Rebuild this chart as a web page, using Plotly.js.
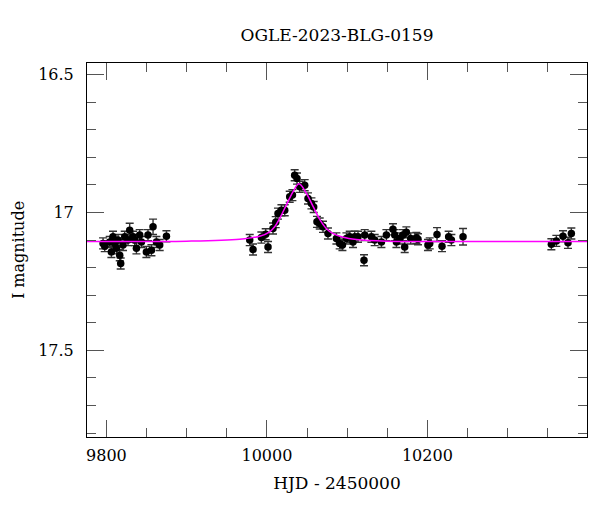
<!DOCTYPE html>
<html>
<head>
<meta charset="utf-8">
<script src="https://cdn.plot.ly/plotly-3.0.1.min.js"></script>
<style>html,body{margin:0;padding:0;background:#fff;}#chart{width:600px;height:512px;}</style>
</head>
<body>
<div id="chart"></div>
<script>
// Observed photometry (HJD - 2450000, I magnitude, error)
var hjd = [
  9795.8, 9797.9, 9804.1, 9806.2, 9808.2, 9810.3, 9812.5, 9814.5, 9816.6, 9817.8,
  9820.7, 9822.8, 9826.9, 9829.0, 9833.1, 9835.3, 9837.4, 9841.5, 9843.6, 9849.8,
  9851.8, 9856.1, 9858.1, 9862.3, 9866.4, 9874.8,
  9978.6, 9982.7, 9993.1, 9998.5, 10001.4, 10007.6, 10011.0, 10013.8, 10018.1, 10022.2,
  10028.4, 10031.8, 10034.6, 10037.5, 10040.9, 10047.1, 10051.2, 10055.5, 10058.3, 10062.4,
  10065.8, 10069.9, 10076.1, 10086.6, 10090.7, 10094.1, 10099.1, 10103.2, 10107.3, 10109.4,
  10113.5, 10121.0, 10121.9, 10130.2, 10134.3, 10142.7, 10148.9, 10157.1, 10159.3, 10161.4,
  10165.5, 10169.6, 10171.7, 10173.8, 10179.2, 10186.3, 10188.3, 10200.7, 10202.9, 10212.0,
  10218.2, 10226.5, 10229.9, 10244.4,
  10354.5, 10360.7, 10369.0, 10375.2, 10379.4
];
var mag = [
  17.112, 17.122, 17.107, 17.143, 17.088, 17.112, 17.130, 17.100, 17.155, 17.185,
  17.118, 17.088, 17.100, 17.064, 17.088, 17.100, 17.130, 17.082, 17.107, 17.143,
  17.082, 17.137, 17.052, 17.107, 17.118, 17.086,
  17.100, 17.134, 17.091, 17.079, 17.125, 17.058, 17.035, 17.004, 16.992, 16.992,
  16.943, 16.937, 16.865, 16.877, 16.907, 16.901, 16.949, 16.967, 16.980, 17.034,
  17.040, 17.052, 17.076, 17.094, 17.112, 17.118, 17.094, 17.088, 17.107, 17.088,
  17.088, 17.173, 17.082, 17.088, 17.100, 17.107, 17.082, 17.061, 17.082, 17.107,
  17.094, 17.082, 17.125, 17.072, 17.094, 17.092, 17.097, 17.118, 17.112, 17.080,
  17.122, 17.088, 17.100, 17.088,
  17.115, 17.103, 17.086, 17.110, 17.076
];
var err = [
  0.020, 0.020, 0.020, 0.020, 0.020, 0.020, 0.020, 0.020, 0.020, 0.020,
  0.020, 0.020, 0.020, 0.025, 0.020, 0.020, 0.020, 0.020, 0.020, 0.020,
  0.020, 0.020, 0.028, 0.020, 0.020, 0.020,
  0.020, 0.020, 0.020, 0.020, 0.020, 0.020, 0.020, 0.020, 0.020, 0.020,
  0.020, 0.020, 0.020, 0.020, 0.020, 0.020, 0.020, 0.020, 0.020, 0.020,
  0.020, 0.020, 0.020, 0.020, 0.020, 0.020, 0.020, 0.020, 0.020, 0.020,
  0.020, 0.020, 0.020, 0.020, 0.020, 0.020, 0.020, 0.020, 0.020, 0.020,
  0.020, 0.020, 0.020, 0.020, 0.020, 0.020, 0.020, 0.020, 0.020, 0.025,
  0.020, 0.020, 0.020, 0.030,
  0.020, 0.020, 0.020, 0.020, 0.020
];
// Model curve
var modelHjd = [9775, 9900, 9966, 9991, 10003.5, 10009.7, 10016, 10024, 10032.5, 10040,
                10049, 10057.5, 10066, 10074, 10082, 10095, 10111.5, 10149, 10200, 10400];
var modelMag = [17.105, 17.104, 17.097, 17.086, 17.070, 17.052, 17.021, 16.974, 16.925, 16.896,
                16.930, 16.978, 17.026, 17.058, 17.076, 17.090, 17.098, 17.104, 17.105, 17.105];

var titleText = 'OGLE-2023-BLG-0159';
var xTitle = 'HJD - 2450000';
var yTitle = 'I magnitude';

var FONT = 'DejaVu Serif, Liberation Serif, serif';

var traces = [
  {
    x: hjd, y: mag, type: 'scatter', mode: 'markers',
    marker: {color: '#000', size: 7.5},
    error_y: {type: 'data', array: err, visible: true, color: '#333', thickness: 1.4, width: 4},
    showlegend: false, hoverinfo: 'x+y'
  },
  {
    x: modelHjd, y: modelMag, type: 'scatter', mode: 'lines',
    line: {color: '#ff00ff', width: 1.5, shape: 'spline', smoothing: 1},
    showlegend: false
  }
];

var axisCommon = {
  showline: true, linecolor: '#000', linewidth: 1, mirror: 'ticks',
  ticks: 'inside', ticklen: 17, tickwidth: 1, tickcolor: '#555',
  showgrid: false, zeroline: false,
  tickfont: {family: FONT, size: 16, color: '#000'}
};

var layout = {
  width: 600, height: 512,
  margin: {l: 87, r: 13, t: 63, b: 75},
  paper_bgcolor: '#fff', plot_bgcolor: '#fff',
  font: {family: FONT, color: '#000'},
  title: {text: titleText, font: {family: FONT, size: 17, color: '#000'},
          xref: 'paper', x: 0.5, xanchor: 'center', yref: 'container', y: 1 - 35/512, yanchor: 'middle'},
  xaxis: Object.assign({}, axisCommon, {
    range: [9775.8, 10398.9], tick0: 9800, dtick: 200, tickformat: 'd',
    minor: {ticks: 'inside', ticklen: 9, dtick: 50, tick0: 9800, tickcolor: '#555', showgrid: false},
    ticklabelstandoff: 4,
    title: {text: xTitle, font: {family: FONT, size: 17, color: '#000'}, standoff: 12}
  }),
  yaxis: Object.assign({}, axisCommon, {
    range: [17.814, 16.458], tick0: 16.5, dtick: 0.5,
    minor: {ticks: 'inside', ticklen: 9, dtick: 0.1, tick0: 16.5, tickcolor: '#555', showgrid: false},
    ticklabelstandoff: 9,
    title: {text: yTitle, font: {family: FONT, size: 16, color: '#000'}, standoff: 9}
  })
};

Plotly.newPlot('chart', traces, layout, {displayModeBar: false, staticPlot: true});
</script>
</body>
</html>
